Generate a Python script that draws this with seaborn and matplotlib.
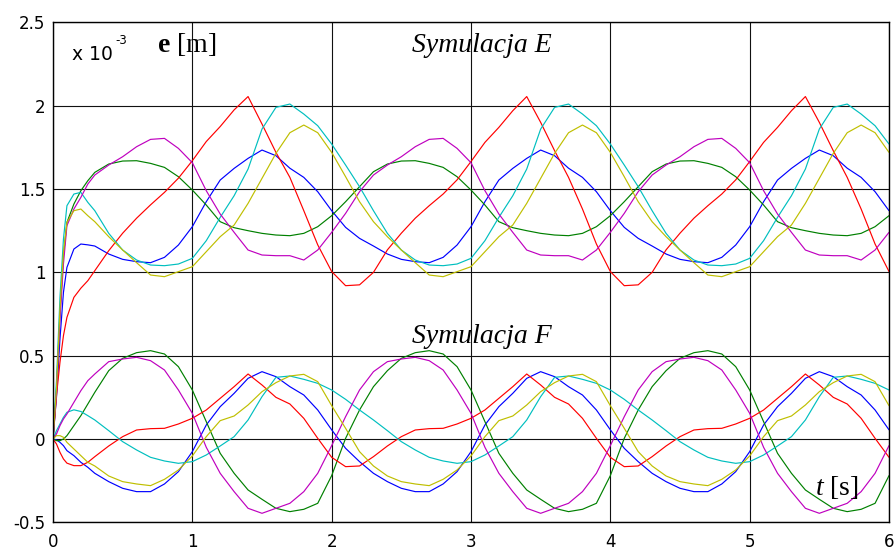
import numpy as np
import pandas as pd
import matplotlib
matplotlib.use("Agg")
import matplotlib.pyplot as plt
import seaborn as sns

# Time grid [s]: fine steps over the start-up, then 0.1 s
t = np.concatenate([[0, 0.025, 0.05, 0.075, 0.1, 0.15, 0.2, 0.25],
                    np.round(np.arange(0.3, 6.0001, 0.1), 2)])

# Symulacja E  (e in 1e-3 m)
e_blue = [0, 0.25, 0.60, 0.88, 1.03, 1.14, 1.17, 1.165,
          1.158, 1.11, 1.078, 1.064, 1.058, 1.09, 1.164, 1.274, 1.424, 1.554, 1.624, 1.684, 1.734, 1.70, 1.625, 1.57, 1.484,
          1.37, 1.27, 1.204, 1.158, 1.11, 1.078, 1.064, 1.058, 1.09, 1.164, 1.274, 1.424, 1.554, 1.624, 1.684, 1.734, 1.70, 1.625, 1.57, 1.484,
          1.37, 1.27, 1.204, 1.158, 1.11, 1.078, 1.064, 1.058, 1.09, 1.164, 1.274, 1.424, 1.554, 1.624, 1.684, 1.734, 1.70, 1.625, 1.57, 1.484,
          1.37]
e_green = [0, 0.30, 0.75, 1.10, 1.30, 1.41, 1.49, 1.55,
           1.60, 1.65, 1.668, 1.67, 1.654, 1.63, 1.574, 1.494, 1.404, 1.304, 1.268, 1.25, 1.234, 1.224, 1.22, 1.234, 1.274,
           1.34, 1.424, 1.514, 1.604, 1.65, 1.668, 1.67, 1.654, 1.63, 1.574, 1.494, 1.404, 1.304, 1.268, 1.25, 1.234, 1.224, 1.22, 1.234, 1.274,
           1.34, 1.424, 1.514, 1.604, 1.65, 1.668, 1.67, 1.654, 1.63, 1.574, 1.494, 1.404, 1.304, 1.268, 1.25, 1.234, 1.224, 1.22, 1.234, 1.274,
           1.34]
e_red = [0, 0.26, 0.46, 0.62, 0.73, 0.85, 0.905, 0.95,
         1.01, 1.13, 1.235, 1.325, 1.405, 1.48, 1.565, 1.67, 1.785, 1.875, 1.975, 2.055, 1.89, 1.72, 1.57, 1.37, 1.165,
         1.005, 0.92, 0.925, 1.0, 1.135, 1.235, 1.325, 1.40, 1.47, 1.555, 1.665, 1.78, 1.87, 1.97, 2.055, 1.90, 1.73, 1.57, 1.38, 1.17,
         1.005, 0.92, 0.925, 1.0, 1.135, 1.235, 1.325, 1.40, 1.47, 1.555, 1.665, 1.78, 1.87, 1.97, 2.055, 1.90, 1.73, 1.57, 1.38, 1.17,
         1.005]
e_cyan = [0, 0.35, 0.85, 1.20, 1.40, 1.47, 1.48, 1.42,
          1.37, 1.234, 1.134, 1.074, 1.044, 1.04, 1.05, 1.084, 1.19, 1.33, 1.46, 1.62, 1.86, 1.99, 2.01, 1.95, 1.88,
          1.77, 1.644, 1.514, 1.37, 1.234, 1.134, 1.074, 1.044, 1.04, 1.05, 1.084, 1.19, 1.33, 1.46, 1.62, 1.86, 1.99, 2.01, 1.95, 1.88,
          1.77, 1.644, 1.514, 1.37, 1.234, 1.134, 1.074, 1.044, 1.04, 1.05, 1.084, 1.19, 1.33, 1.46, 1.62, 1.86, 1.99, 2.01, 1.95, 1.88,
          1.77]
e_magenta = [0, 0.28, 0.72, 1.05, 1.28, 1.38, 1.45, 1.53,
             1.584, 1.644, 1.694, 1.754, 1.798, 1.804, 1.744, 1.658, 1.49, 1.35, 1.24, 1.134, 1.104, 1.10, 1.10, 1.074, 1.134,
             1.24, 1.354, 1.484, 1.584, 1.644, 1.694, 1.754, 1.798, 1.804, 1.744, 1.658, 1.49, 1.35, 1.24, 1.134, 1.104, 1.10, 1.10, 1.074, 1.134,
             1.24, 1.354, 1.484, 1.584, 1.644, 1.694, 1.754, 1.798, 1.804, 1.744, 1.658, 1.49, 1.35, 1.24, 1.134, 1.104, 1.10, 1.10, 1.074, 1.134,
             1.24]
e_yellow = [0, 0.30, 0.78, 1.12, 1.30, 1.37, 1.38, 1.34,
            1.304, 1.214, 1.134, 1.058, 0.984, 0.974, 1.004, 1.034, 1.124, 1.214, 1.284, 1.414, 1.564, 1.714, 1.838, 1.884, 1.838,
            1.72, 1.574, 1.424, 1.304, 1.214, 1.134, 1.058, 0.984, 0.974, 1.004, 1.034, 1.124, 1.214, 1.284, 1.414, 1.564, 1.714, 1.838, 1.884, 1.838,
            1.72, 1.574, 1.424, 1.304, 1.214, 1.134, 1.058, 0.984, 0.974, 1.004, 1.034, 1.124, 1.214, 1.284, 1.414, 1.564, 1.714, 1.838, 1.884, 1.838,
            1.72]

# Symulacja F  (e in 1e-3 m)
f_blue = [0, -0.005, -0.02, -0.04, -0.07, -0.10, -0.14, -0.17,
          -0.206, -0.256, -0.296, -0.316, -0.316, -0.27, -0.196, -0.076, 0.084, 0.194, 0.274, 0.364, 0.404, 0.374, 0.314, 0.264, 0.174,
          0.055, -0.056, -0.136, -0.206, -0.256, -0.296, -0.316, -0.316, -0.27, -0.196, -0.076, 0.084, 0.194, 0.274, 0.364, 0.404, 0.374, 0.314, 0.264, 0.174,
          0.055, -0.056, -0.136, -0.206, -0.256, -0.296, -0.316, -0.316, -0.27, -0.196, -0.076, 0.084, 0.194, 0.274, 0.364, 0.404, 0.374, 0.314, 0.264, 0.174,
          0.055]
f_green = [0, -0.01, -0.01, 0.0, 0.02, 0.08, 0.14, 0.21,
           0.28, 0.41, 0.484, 0.518, 0.53, 0.51, 0.434, 0.294, 0.104, -0.086, -0.206, -0.306, -0.362, -0.416, -0.436, -0.422, -0.386,
           -0.22, 0.004, 0.174, 0.314, 0.41, 0.484, 0.518, 0.53, 0.51, 0.434, 0.294, 0.104, -0.086, -0.206, -0.306, -0.362, -0.416, -0.436, -0.422, -0.386,
           -0.22, 0.004, 0.174, 0.314, 0.41, 0.484, 0.518, 0.53, 0.51, 0.434, 0.294, 0.104, -0.086, -0.206, -0.306, -0.362, -0.416, -0.436, -0.422, -0.386,
           -0.22]
f_red = [0, -0.03, -0.08, -0.12, -0.145, -0.16, -0.16, -0.14,
         -0.106, -0.042, 0.014, 0.054, 0.062, 0.064, 0.09, 0.124, 0.174, 0.244, 0.314, 0.39, 0.324, 0.25, 0.21, 0.124, 0.004,
         -0.11, -0.166, -0.162, -0.106, -0.042, 0.014, 0.054, 0.062, 0.064, 0.09, 0.124, 0.174, 0.244, 0.314, 0.39, 0.324, 0.25, 0.21, 0.124, 0.004,
         -0.11, -0.166, -0.162, -0.106, -0.042, 0.014, 0.054, 0.062, 0.064, 0.09, 0.124, 0.174, 0.244, 0.314, 0.39, 0.324, 0.25, 0.21, 0.124, 0.004,
         -0.11]
f_cyan = [0, 0.05, 0.09, 0.13, 0.16, 0.175, 0.165, 0.14,
          0.114, 0.05, -0.016, -0.066, -0.11, -0.132, -0.146, -0.136, -0.096, -0.042, 0.014, 0.114, 0.254, 0.37, 0.378, 0.358, 0.334,
          0.294, 0.238, 0.174, 0.114, 0.05, -0.016, -0.066, -0.11, -0.132, -0.146, -0.136, -0.096, -0.042, 0.014, 0.114, 0.254, 0.37, 0.378, 0.358, 0.334,
          0.294, 0.238, 0.174, 0.114, 0.05, -0.016, -0.066, -0.11, -0.132, -0.146, -0.136, -0.096, -0.042, 0.014, 0.114, 0.254, 0.37, 0.378, 0.358, 0.334,
          0.294]
f_magenta = [0, 0.03, 0.08, 0.12, 0.15, 0.22, 0.29, 0.35,
             0.39, 0.464, 0.48, 0.49, 0.47, 0.414, 0.294, 0.154, -0.05, -0.206, -0.316, -0.416, -0.446, -0.416, -0.386, -0.316, -0.206,
             -0.04, 0.134, 0.294, 0.404, 0.464, 0.48, 0.49, 0.47, 0.414, 0.294, 0.154, -0.05, -0.206, -0.316, -0.416, -0.446, -0.416, -0.386, -0.316, -0.206,
             -0.04, 0.134, 0.294, 0.404, 0.464, 0.48, 0.49, 0.47, 0.414, 0.294, 0.154, -0.05, -0.206, -0.316, -0.416, -0.446, -0.416, -0.386, -0.316, -0.206,
             -0.04]
f_yellow = [0, 0.02, 0.02, 0.01, -0.02, -0.06, -0.10, -0.14,
            -0.162, -0.222, -0.256, -0.27, -0.28, -0.242, -0.186, -0.102, 0.014, 0.11, 0.138, 0.204, 0.284, 0.338, 0.378, 0.388, 0.344,
            0.20, 0.064, -0.076, -0.162, -0.222, -0.256, -0.27, -0.28, -0.242, -0.186, -0.102, 0.014, 0.11, 0.138, 0.204, 0.284, 0.338, 0.378, 0.388, 0.344,
            0.20, 0.064, -0.076, -0.162, -0.222, -0.256, -0.27, -0.28, -0.242, -0.186, -0.102, 0.014, 0.11, 0.138, 0.204, 0.284, 0.338, 0.378, 0.388, 0.344,
            0.20]

curve_names = ["E1", "E2", "E3", "E4", "E5", "E6",
               "F1", "F2", "F3", "F4", "F5", "F6"]
curve_values = [e_blue, e_green, e_red, e_cyan, e_magenta, e_yellow,
                f_blue, f_green, f_red, f_cyan, f_magenta, f_yellow]
line_colors = ["#0000FF", "#008000", "#FF0000", "#00BFBF", "#BF00BF", "#BFBF00"] * 2

x_ticks = [0, 1, 2, 3, 4, 5, 6]
y_ticks = [-0.5, 0, 0.5, 1, 1.5, 2, 2.5]
y_tick_labels = ["-0.5", "0", "0.5", "1", "1.5", "2", "2.5"]

df = pd.concat([pd.DataFrame({"t": t, "e": v, "curve": n})
                for n, v in zip(curve_names, curve_values)], ignore_index=True)

sns.set_theme(style="white")
plt.rcParams["font.family"] = ["DejaVu Sans"]
plt.rcParams["text.color"] = "black"
plt.rcParams["mathtext.fontset"] = "custom"
plt.rcParams["mathtext.rm"] = "Liberation Serif"
plt.rcParams["mathtext.it"] = "Liberation Serif:italic"
plt.rcParams["mathtext.bf"] = "Liberation Serif:bold"

W, H = 895, 551
fig = plt.figure(figsize=(W / 100, H / 100), dpi=100)
fig.patch.set_facecolor("white")
x0, x1, y0, y1 = 53, 889, 22.4, 522.3
ax = fig.add_axes([x0 / W, 1 - y1 / H, (x1 - x0) / W, (y1 - y0) / H])

sns.lineplot(data=df, x="t", y="e", hue="curve", hue_order=curve_names,
             palette=dict(zip(curve_names, line_colors)), estimator=None,
             sort=False, legend=False, linewidth=0.85, ax=ax)

ax.set_xlim(0, 6)
ax.set_ylim(-0.5, 2.5)
ax.set_xticks(x_ticks)
ax.set_xticklabels([str(v) for v in x_ticks])
ax.set_yticks(y_ticks)
ax.set_yticklabels(y_tick_labels)
ax.set_xlabel("")
ax.set_ylabel("")
ax.grid(True, color="#111111", linewidth=0.8)
for s in ax.spines.values():
    s.set_color("black")
    s.set_linewidth(1.0)
ax.tick_params(direction="in", length=4, width=0.8, color="black",
               labelsize=12, labelcolor="black")
ax.tick_params(axis="y", pad=5.5)
ax.tick_params(axis="x", pad=8)


def fx(px):
    return (px - x0) / (x1 - x0)


def fy(py):
    return (y1 - py) / (y1 - y0)


ax.text(fx(72), fy(60), "x 10", transform=ax.transAxes, fontsize=13.5,
        ha="left", va="baseline", color="black")
ax.text(fx(115), fy(43.5), "-3", transform=ax.transAxes, fontsize=8.5,
        ha="left", va="baseline", color="black")
ax.text(fx(157), fy(51.7), r"$\mathbf{e}$ [m]", transform=ax.transAxes,
        fontsize=20, family="Liberation Serif", ha="left", va="baseline",
        color="black")
ax.text(fx(412), fy(51.7), "Symulacja E", transform=ax.transAxes,
        fontsize=20, family="Liberation Serif", style="italic",
        ha="left", va="baseline", color="black")
ax.text(fx(412), fy(343.3), "Symulacja F", transform=ax.transAxes,
        fontsize=20, family="Liberation Serif", style="italic",
        ha="left", va="baseline", color="black")
ax.text(fx(815), fy(495), r"$\mathit{t}$ [s]", transform=ax.transAxes,
        fontsize=20, family="Liberation Serif", ha="left", va="baseline",
        color="black")

fig.savefig("out.png", dpi=100)
